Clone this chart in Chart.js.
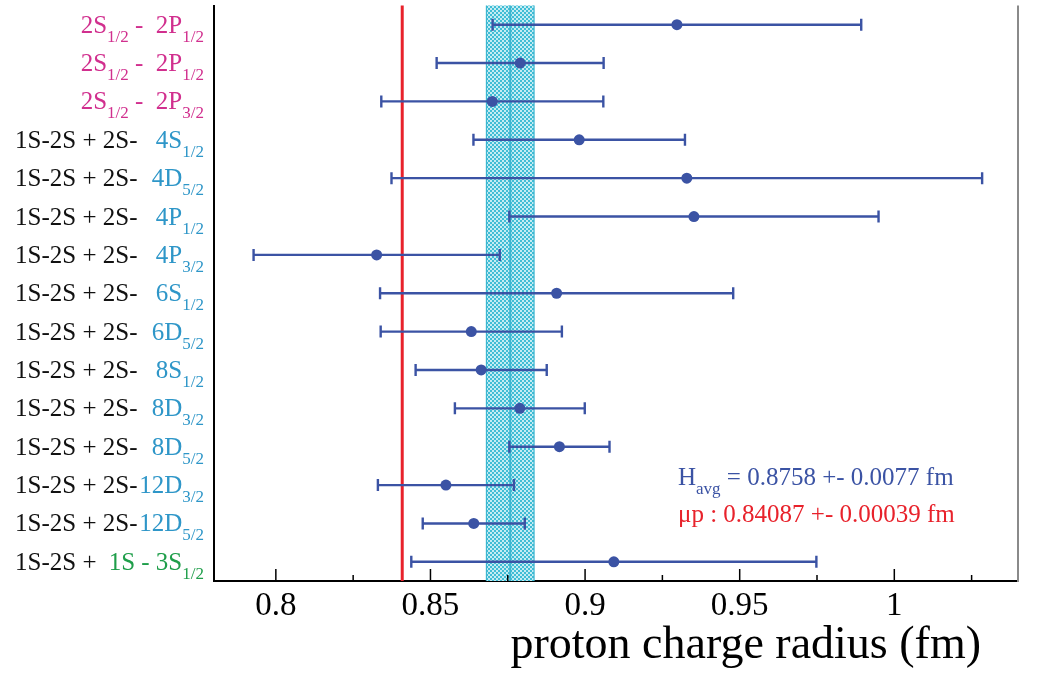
<!DOCTYPE html>
<html>
<head>
<meta charset="utf-8">
<script src="https://cdn.jsdelivr.net/npm/chart.js@4.4.1/dist/chart.umd.min.js"></script>
<style>
    html, body { margin: 0; padding: 0; background: #fff; }
    #wrap { width: 1044px; height: 675px; position: relative; }
</style>
</head>
<body>
<div id="wrap"><canvas id="radius_chart"></canvas></div>
<script>
// one entry per measurement, top to bottom
const CATEGORIES = [
    '2S1/2-2P1/2 a', '2S1/2-2P1/2 b', '2S1/2-2P3/2',
    '2S-4S1/2', '2S-4D5/2', '2S-4P1/2', '2S-4P3/2', '2S-6S1/2', '2S-6D5/2',
    '2S-8S1/2', '2S-8D3/2', '2S-8D5/2', '2S-12D3/2', '2S-12D5/2', '1S-3S1/2'
];
const PREFIXES = [
    '', '', '',
    '1S-2S + 2S-', '1S-2S + 2S-', '1S-2S + 2S-', '1S-2S + 2S-', '1S-2S + 2S-', '1S-2S + 2S-',
    '1S-2S + 2S-', '1S-2S + 2S-', '1S-2S + 2S-', '1S-2S + 2S-', '1S-2S + 2S-', '1S-2S + '
];
const TRANSITIONS = [
    '2S_{1/2} -  2P_{1/2}', '2S_{1/2} -  2P_{1/2}', '2S_{1/2} -  2P_{3/2}',
    '4S_{1/2}', '4D_{5/2}', '4P_{1/2}', '4P_{3/2}', '6S_{1/2}', '6D_{5/2}',
    '8S_{1/2}', '8D_{3/2}', '8D_{5/2}', '12D_{3/2}', '12D_{5/2}', '1S - 3S_{1/2}'
];
const TRANSITION_COLORS = [
    '#d12f8e', '#d12f8e', '#d12f8e',
    '#2e96c8', '#2e96c8', '#2e96c8', '#2e96c8', '#2e96c8', '#2e96c8',
    '#2e96c8', '#2e96c8', '#2e96c8', '#2e96c8', '#2e96c8', '#1f9e4a'
];
const RADIUS = [0.9297, 0.8790, 0.8700, 0.8981, 0.9329, 0.9352, 0.8326, 0.8908,
    0.8632, 0.8664, 0.8789, 0.8917, 0.8550, 0.8640, 0.9093];
const RADIUS_ERR = [0.0596, 0.0270, 0.0359, 0.0342, 0.0955, 0.0597, 0.0398, 0.0571,
    0.0293, 0.0212, 0.0210, 0.0162, 0.0220, 0.0165, 0.0655];

const H_AVG = 0.8758;
const H_AVG_ERR = 0.0077;
const MU_P = 0.84087;
const MU_P_ERR = 0.00039;

const MAJOR_TICKS = [0.8, 0.85, 0.9, 0.95, 1];
const MAJOR_TICK_LABELS = ['0.8', '0.85', '0.9', '0.95', '1'];
const MINOR_TICKS = [0.825, 0.875, 0.925, 0.975, 1.025];

const BLUE = '#3b53a4';
const RED = '#e8222b';
const SERIF = '"Liberation Serif", "DejaVu Serif", serif';

Chart.defaults.font.family = SERIF;

// split "4D_{5/2}" into normal / subscript pieces
function splitSubs(str) {
    const out = [];
    const re = /_\{([^}]*)\}/g;
    let last = 0, m;
    while ((m = re.exec(str))) {
        if (m.index > last) out.push({ t: str.slice(last, m.index), sub: false });
        out.push({ t: m[1], sub: true });
        last = re.lastIndex;
    }
    if (last < str.length) out.push({ t: str.slice(last), sub: false });
    return out;
}

function drawRich(ctx, str, x, y, align, color, size, subSize) {
    const segs = splitSubs(str);
    const mainFont = size + 'px ' + SERIF;
    const subFont = subSize + 'px ' + SERIF;
    let total = 0;
    segs.forEach(s => {
        ctx.font = s.sub ? subFont : mainFont;
        s.w = ctx.measureText(s.t).width;
        total += s.w;
    });
    let cx = align === 'right' ? x - total : x;
    ctx.fillStyle = color;
    ctx.textAlign = 'left';
    ctx.textBaseline = 'alphabetic';
    segs.forEach(s => {
        ctx.font = s.sub ? subFont : mainFont;
        ctx.fillText(s.t, cx, s.sub ? y + Math.round(size * 0.34) : y);
        cx += s.w;
    });
}

// cross hatch fill for the H average band
function hatchPattern(ctx) {
    const c = document.createElement('canvas');
    c.width = 4; c.height = 4;
    const p = c.getContext('2d');
    p.fillStyle = '#c4ecf3';
    p.fillRect(0, 0, 4, 4);
    p.fillStyle = '#40bdd5';
    p.fillRect(0, 0, 2, 2);
    p.fillRect(2, 2, 2, 2);
    return ctx.createPattern(c, 'repeat');
}

const radiusPlugin = {
    id: 'radiusPlugin',
    beforeDatasetsDraw(chart) {
        const { ctx, chartArea: a, scales: { x, y } } = chart;
        ctx.save();
        // hydrogen average band
        const b0 = x.getPixelForValue(H_AVG - H_AVG_ERR);
        const b1 = x.getPixelForValue(H_AVG + H_AVG_ERR);
        ctx.fillStyle = hatchPattern(ctx);
        ctx.fillRect(b0, a.top, b1 - b0, a.bottom - a.top);
        ctx.strokeStyle = '#3cb6d0';
        ctx.lineWidth = 1.2;
        [b0, b1].forEach(px => {
            ctx.beginPath(); ctx.moveTo(px, a.top); ctx.lineTo(px, a.bottom); ctx.stroke();
        });
        ctx.lineWidth = 2;
        const bc = x.getPixelForValue(H_AVG);
        ctx.beginPath(); ctx.moveTo(bc, a.top); ctx.lineTo(bc, a.bottom); ctx.stroke();

        // muonic hydrogen
        const mp = x.getPixelForValue(MU_P);
        ctx.strokeStyle = RED;
        ctx.lineWidth = 3;
        ctx.beginPath(); ctx.moveTo(mp, a.top); ctx.lineTo(mp, a.bottom); ctx.stroke();

        // error bars
        ctx.strokeStyle = BLUE;
        ctx.lineWidth = 2.4;
        RADIUS.forEach((v, i) => {
            const py = y.getPixelForValue(i);
            const lo = x.getPixelForValue(v - RADIUS_ERR[i]);
            const hi = x.getPixelForValue(v + RADIUS_ERR[i]);
            ctx.beginPath();
            ctx.moveTo(lo, py); ctx.lineTo(hi, py);
            ctx.moveTo(lo, py - 6); ctx.lineTo(lo, py + 6);
            ctx.moveTo(hi, py - 6); ctx.lineTo(hi, py + 6);
            ctx.stroke();
        });
        ctx.restore();
    },
    afterDraw(chart) {
        const { ctx, chartArea: a, scales: { x, y } } = chart;
        ctx.save();
        // right frame line
        ctx.strokeStyle = '#8a8a8a';
        ctx.lineWidth = 2;
        ctx.beginPath(); ctx.moveTo(a.right, a.top); ctx.lineTo(a.right, a.bottom + 1); ctx.stroke();

        // inward ticks
        ctx.strokeStyle = '#000';
        ctx.lineWidth = 1.5;
        MAJOR_TICKS.forEach(v => {
            const px = x.getPixelForValue(v);
            ctx.beginPath(); ctx.moveTo(px, a.bottom); ctx.lineTo(px, a.bottom - 12); ctx.stroke();
        });
        MINOR_TICKS.forEach(v => {
            const px = x.getPixelForValue(v);
            ctx.beginPath(); ctx.moveTo(px, a.bottom); ctx.lineTo(px, a.bottom - 6); ctx.stroke();
        });

        // category labels
        CATEGORIES.forEach((c, i) => {
            const base = y.getPixelForValue(i) + 8;
            if (PREFIXES[i]) drawRich(ctx, PREFIXES[i], 15, base, 'left', '#111', 25, 17);
            drawRich(ctx, TRANSITIONS[i], 204, base, 'right', TRANSITION_COLORS[i], 25, 17);
        });

        // result text
        drawRich(ctx, 'H_{avg} = ' + H_AVG.toFixed(4) + ' +- ' + H_AVG_ERR.toFixed(4) + ' fm',
            678, 485, 'left', BLUE, 25, 17);
        drawRich(ctx, '\u03bcp : ' + MU_P.toFixed(5) + ' +- ' + MU_P_ERR.toFixed(5) + ' fm',
            678, 522, 'left', RED, 25, 17);

        // axis title
        ctx.font = '46px ' + SERIF;
        ctx.fillStyle = '#000';
        ctx.textAlign = 'right';
        ctx.textBaseline = 'alphabetic';
        ctx.fillText('proton charge radius (fm)', 981, 658);
        ctx.restore();
    }
};

const ctx = document.getElementById('radius_chart');
new Chart(ctx, {
    type: 'line',
    data: {
        labels: CATEGORIES,
        datasets: [{
            data: RADIUS,
            showLine: false,
            pointRadius: 5.5,
            pointHoverRadius: 5.5,
            pointBackgroundColor: BLUE,
            pointBorderWidth: 0,
        }]
    },
    options: {
        responsive: true,
        maintainAspectRatio: false,
        animation: false,
        indexAxis: 'y',
        layout: { padding: { left: 0, right: 26, top: 0, bottom: 0 } },
        plugins: {
            legend: { display: false },
            tooltip: { enabled: false }
        },
        scales: {
            x: {
                type: 'linear',
                min: 0.78,
                max: 1.04,
                afterBuildTicks: (scale) => {
                    scale.ticks = MAJOR_TICKS.concat(MINOR_TICKS)
                        .sort((p, q) => p - q)
                        .map(v => ({ value: v }));
                },
                afterFit: (scale) => { scale.height = 94; },
                ticks: {
                    autoSkip: false,
                    maxRotation: 0,
                    padding: 6,
                    color: '#000',
                    font: { size: 33 },
                    callback: (v) => {
                        const k = MAJOR_TICKS.findIndex(t => Math.abs(t - v) < 1e-6);
                        return k >= 0 ? MAJOR_TICK_LABELS[k] : '';
                    }
                },
                grid: { display: false, drawTicks: false, tickLength: 0 },
                border: { display: true, color: '#000', width: 2 }
            },
            y: {
                type: 'category',
                offset: true,
                afterFit: (scale) => { scale.width = 214; },
                ticks: { display: false },
                grid: { display: false, drawTicks: false, tickLength: 0 },
                border: { display: true, color: '#000', width: 2 }
            }
        }
    },
    plugins: [radiusPlugin],
});
</script>
</body>
</html>
